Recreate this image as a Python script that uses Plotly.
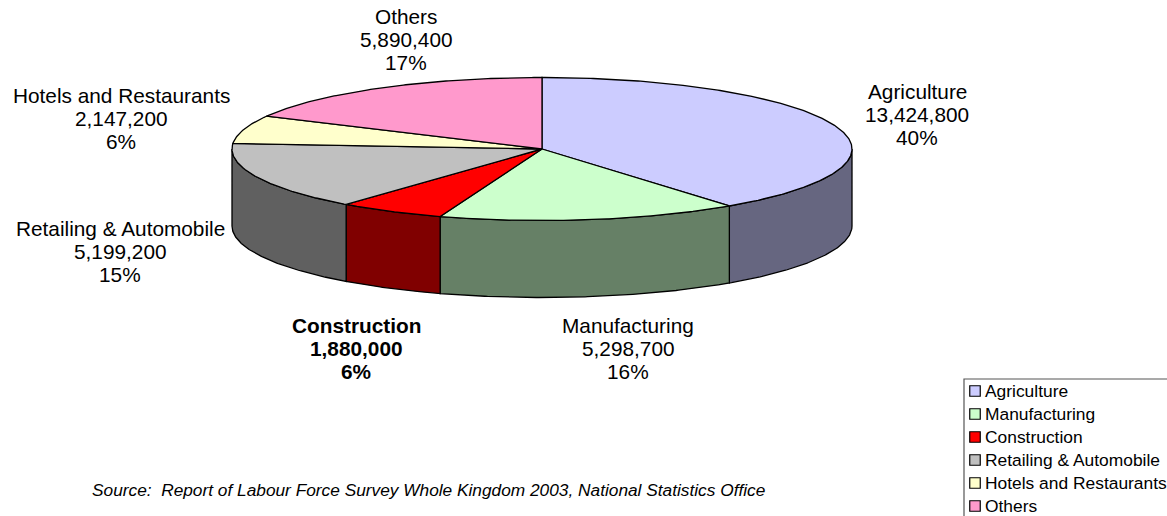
import math
import plotly.graph_objects as go

categories = ["Agriculture", "Manufacturing", "Construction", "Retailing & Automobile", "Hotels and Restaurants", "Others"]
values = [13424800, 5298700, 1880000, 5199200, 2147200, 5890400]
top_colors = ["#CCCCFF", "#CCFFCC", "#FF0000", "#C0C0C0", "#FFFFCC", "#FF99CC"]
side_colors = ["#666680", "#668066", "#800000", "#606060", "#808066", "#804C66"]
label_centers = [(917, 91), (628, 325), (356, 325), (120, 228), (121, 95), (406, 16)]
source_text = "Source:  Report of Labour Force Survey Whole Kingdom 2003, National Statistics Office"

CX, CY, RX, RY, DEPTH = 542, 149, 310, 71.5, 77
LINE = dict(color="#000000", width=1.3)
FONT = "Liberation Sans, Arial, sans-serif"

def pt(deg, dy=0):
    r = math.radians(deg)
    return CX + RX * math.sin(r), CY - RY * math.cos(r) + dy

def arc(a, b, dy=0):
    n = max(2, int(abs(b - a) * 2))
    return [pt(a + (b - a) * i / n, dy) for i in range(n + 1)]

total = sum(values)
bounds = [0]
for v in values:
    bounds.append(bounds[-1] + 360 * v / total)

fig = go.Figure()

# Side walls: only the front half of the disc (90..270 degrees) is visible.
for i, name in enumerate(categories):
    a, b = max(bounds[i], 90), min(bounds[i + 1], 270)
    if a >= b:
        continue
    pts = arc(a, b) + arc(b, a, DEPTH)
    pts.append(pts[0])
    fig.add_trace(go.Scatter(x=[p[0] for p in pts], y=[p[1] for p in pts], mode="lines",
                             fill="toself", fillcolor=side_colors[i], line=LINE,
                             name=name + " side", hoverinfo="skip", showlegend=False))

# Top faces
for i, name in enumerate(categories):
    pts = [(CX, CY)] + arc(bounds[i], bounds[i + 1]) + [(CX, CY)]
    fig.add_trace(go.Scatter(x=[p[0] for p in pts], y=[p[1] for p in pts], mode="lines",
                             fill="toself", fillcolor=top_colors[i], line=LINE,
                             name=name, hoverinfo="name", showlegend=False))

annotations = []
def text(x, y, s, size, anchor="center", color="#000000"):
    annotations.append(dict(x=x, y=y, text=s, xref="x", yref="y", showarrow=False,
                            xanchor=anchor, yanchor="middle",
                            font=dict(family=FONT, size=size, color=color)))

# Data labels
for i, name in enumerate(categories):
    lx, ly = label_centers[i]
    rows = [name, f"{values[i]:,}", f"{round(100 * values[i] / total)}%"]
    for k, row in enumerate(rows):
        s = f"<b>{row}</b>" if name == "Construction" else row
        text(lx, ly + 23 * k, s, 20.8)

text(90, 490, f"<i>{source_text}</i>", 17.3, "left")

# Legend, placed as in the reference
LEG_X, LEG_Y = 975, 391
fig.add_trace(go.Scatter(x=[LEG_X] * len(categories), y=[LEG_Y + 23 * i for i in range(len(categories))],
                         mode="markers", hoverinfo="skip", showlegend=False, name="legend",
                         marker=dict(symbol="square", size=10.5, color=top_colors,
                                     line=dict(color="#000000", width=1.2))))
for i, name in enumerate(categories):
    text(983, LEG_Y + 23 * i, name, 17.4, "left")

fig.update_layout(
    width=1167, height=516, margin=dict(l=0, r=0, t=0, b=0, pad=0),
    paper_bgcolor="#FFFFFF", plot_bgcolor="#FFFFFF", showlegend=False,
    xaxis=dict(range=[0, 1167], visible=False, fixedrange=True),
    yaxis=dict(range=[516, 0], visible=False, fixedrange=True),
    annotations=annotations,
    shapes=[dict(type="rect", xref="x", yref="y", x0=964, y0=379, x1=1170, y1=520,
                 line=dict(color="#555555", width=1.2), fillcolor="rgba(0,0,0,0)", layer="below")],
)

fig.write_html("out.html", config=dict(displayModeBar=False),
               post_script="document.body.style.margin='0';document.body.style.overflow='hidden';")
